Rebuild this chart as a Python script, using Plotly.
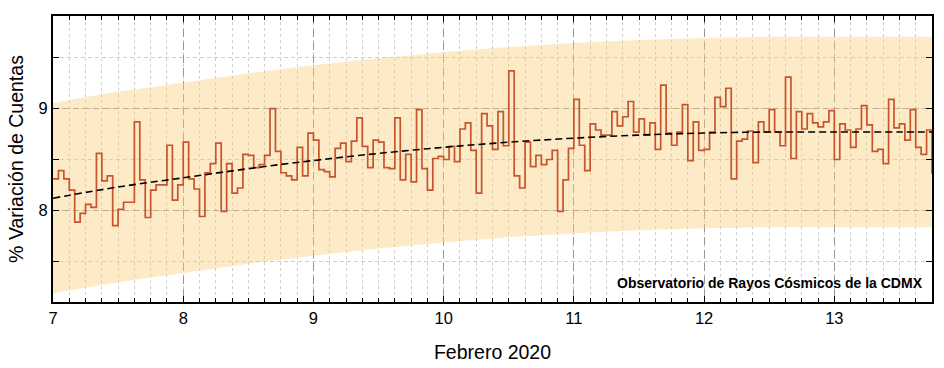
import plotly.graph_objects as go

# Hourly % count variation, starting Feb 7 00:00 (step data)
start_day = 7.0
counts = [
    8.31, 8.39, 8.31, 8.20, 7.885, 7.97, 8.06, 8.03, 8.56, 8.29, 8.34, 7.85,
    8.01, 8.08, 8.08, 8.87, 8.30, 7.93, 8.20, 8.25, 8.25, 8.64, 8.10, 8.25,
    8.67, 8.31, 8.21, 7.94, 8.37, 8.46, 8.66, 7.99, 8.46, 8.17, 8.22, 8.55,
    8.54, 8.42, 8.45, 8.54, 9.00, 8.58, 8.37, 8.34, 8.30, 8.62, 8.34, 8.76,
    8.69, 8.40, 8.38, 8.33, 8.61, 8.66, 8.48, 8.68, 8.91, 8.63, 8.42, 8.69,
    8.67, 8.42, 8.41, 8.91, 8.30, 8.55, 8.28, 8.99, 8.41, 8.20, 8.51, 8.53,
    8.50, 8.63, 8.48, 8.80, 8.86, 8.59, 8.17, 8.95, 8.83, 8.60, 8.97, 8.635,
    9.37, 8.34, 8.22, 8.67, 8.43, 8.54, 8.45, 8.50, 8.59, 7.99, 8.30, 8.61,
    9.09, 8.64, 8.39, 8.85, 8.79, 8.74, 8.74, 8.97, 8.83, 8.92, 9.07, 8.77,
    8.90, 8.74, 8.86, 8.60, 9.23, 8.76, 8.64, 8.77, 9.04, 8.49, 8.87, 8.59,
    8.60, 8.77, 9.11, 9.02, 9.20, 8.31, 8.68, 8.70, 8.78, 8.47, 8.87, 8.77,
    8.99, 8.77, 8.635, 9.31, 8.51, 8.97, 8.80, 8.95, 8.86, 8.82, 8.87, 8.98,
    8.50, 8.85, 8.79, 8.62, 8.80, 9.03, 8.84, 8.58, 8.60, 8.46, 9.09, 8.81,
    8.85, 8.69, 8.99, 8.62, 8.55, 8.79, 8.36,
]
hours = [start_day + i / 24.0 for i in range(len(counts))]

# Trend (dashed) and band, read at half-day steps
trend_x = [7.0, 7.5, 8.0, 8.5, 9.0, 9.5, 10.0, 10.5, 11.0, 11.5, 12.0, 12.5, 13.0, 13.5, 13.75]
trend_y = [8.12, 8.23, 8.32, 8.41, 8.49, 8.56, 8.62, 8.67, 8.71, 8.74, 8.76, 8.77, 8.77, 8.77, 8.77]
band_upper = [9.055, 9.165, 9.255, 9.345, 9.425, 9.495, 9.555, 9.605, 9.645, 9.675, 9.695, 9.705, 9.705, 9.705, 9.705]
band_lower = [7.185, 7.295, 7.385, 7.475, 7.555, 7.625, 7.685, 7.735, 7.775, 7.805, 7.825, 7.835, 7.835, 7.835, 7.835]

x_ticks = [7, 8, 9, 10, 11, 12, 13]
y_ticks = [8, 9]

FONT = "Liberation Sans, Arial, sans-serif"

fig = go.Figure()
fig.add_trace(go.Scatter(x=trend_x, y=band_lower, mode="lines", line=dict(width=0, shape="spline"),
                         hoverinfo="skip", showlegend=False))
fig.add_trace(go.Scatter(x=trend_x, y=band_upper, mode="lines", line=dict(width=0, shape="spline"),
                         fill="tonexty", fillcolor="rgba(250,205,118,0.42)",
                         hoverinfo="skip", showlegend=False))
fig.add_trace(go.Scatter(x=hours, y=counts, mode="lines",
                         line=dict(color="rgb(200,84,44)", width=1.7, shape="hv"),
                         showlegend=False))
fig.add_trace(go.Scatter(x=trend_x, y=trend_y, mode="lines",
                         line=dict(color="black", width=1.6, dash="7px,4px", shape="spline"),
                         showlegend=False))

fig.add_annotation(text="<b>Observatorio de Rayos Cósmicos de la CDMX</b>",
                   xref="paper", yref="paper", x=0.9925, y=0.068,
                   xanchor="right", yanchor="middle", showarrow=False,
                   font=dict(family=FONT, size=14, color="black"))

fig.update_layout(
    width=944, height=368,
    margin=dict(l=53, r=12, t=16, b=66),
    paper_bgcolor="white", plot_bgcolor="white",
    font=dict(family=FONT, size=16, color="black"),
    xaxis=dict(
        range=[7, 13.75], tickvals=x_ticks, ticktext=[str(v) for v in x_ticks],
        automargin=False,
        ticks="inside", ticklen=6, tickwidth=1.2, tickcolor="black",
        showline=True, linecolor="black", linewidth=2, mirror="allticks",
        showgrid=True, gridcolor="rgb(150,150,150)", griddash="8px,5px", gridwidth=1,
        zeroline=False,
        minor=dict(dtick=0.125, tick0=7, ticks="inside", ticklen=4, tickcolor="black",
                   showgrid=True, gridcolor="rgb(205,205,205)", griddash="3px,3px", gridwidth=1),
        title=dict(text="Febrero 2020", font=dict(size=19.5), standoff=20),
        tickfont=dict(size=16.5),
    ),
    yaxis=dict(
        range=[7.1, 9.91], tickvals=y_ticks, ticktext=[str(v) for v in y_ticks],
        automargin=False,
        ticks="inside", ticklen=6, tickwidth=1.2, tickcolor="black",
        showline=True, linecolor="black", linewidth=2, mirror="allticks",
        showgrid=True, gridcolor="rgb(150,150,150)", griddash="6px,4px", gridwidth=1,
        zeroline=False,
        minor=dict(dtick=0.5, tick0=7, ticks="inside", ticklen=6, tickcolor="black",
                   showgrid=True, gridcolor="rgb(205,205,205)", griddash="4px,3px", gridwidth=1),
        title=dict(text="% Variación de Cuentas", font=dict(size=19.5), standoff=10),
        tickfont=dict(size=16.5),
    ),
)

fig.write_html("out.html", config={"displayModeBar": False},
               post_script="document.body.style.margin='0px';")
